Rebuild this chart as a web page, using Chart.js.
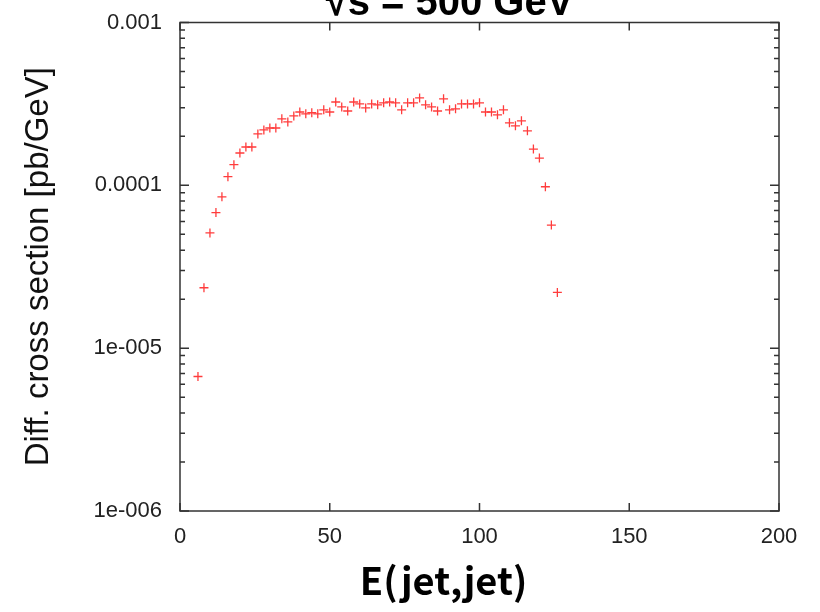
<!DOCTYPE html>
<html>
<head>
<meta charset="utf-8">
<script src="https://cdn.jsdelivr.net/npm/chart.js@4.4.1/dist/chart.umd.min.js"></script>
<style>
    html, body { margin: 0; padding: 0; background: #fff; overflow: hidden; }
    #wrap { position: absolute; left: 0; top: 0; width: 820px; height: 612px; }
</style>
</head>
<body>
<div id="wrap"><canvas id="chart"></canvas></div>
<script>
// Datos (E(jet,jet) en GeV, sección eficaz en pb/GeV)
const energies = [
    6, 8, 10, 12, 14, 16, 18, 20, 22, 24,
    26, 28, 30, 32, 34, 36, 38, 40, 42, 44,
    46, 48, 50, 52, 54, 56, 58, 60, 62, 64,
    66, 68, 70, 72, 74, 76, 78, 80, 82, 84,
    86, 88, 90, 92, 94, 96, 98, 100, 102, 104,
    106, 108, 110, 112, 114, 116, 118, 120, 122, 124,
    126
];
const crossSections = [
    6.7e-6, 2.35e-5, 5.1e-5, 6.8e-5, 8.5e-5, 1.13e-4, 1.34e-4, 1.58e-4, 1.72e-4, 1.72e-4,
    2.07e-4, 2.19e-4, 2.25e-4, 2.25e-4, 2.56e-4, 2.45e-4, 2.67e-4, 2.82e-4, 2.75e-4, 2.79e-4,
    2.75e-4, 2.91e-4, 2.82e-4, 3.25e-4, 3.03e-4, 2.86e-4, 3.25e-4, 3.16e-4, 2.99e-4, 3.16e-4,
    3.12e-4, 3.21e-4, 3.25e-4, 3.21e-4, 2.91e-4, 3.21e-4, 3.21e-4, 3.44e-4, 3.12e-4, 3.03e-4,
    2.86e-4, 3.40e-4, 2.91e-4, 2.95e-4, 3.16e-4, 3.16e-4, 3.16e-4, 3.21e-4, 2.82e-4, 2.82e-4,
    2.71e-4, 2.91e-4, 2.42e-4, 2.32e-4, 2.49e-4, 2.16e-4, 1.67e-4, 1.47e-4, 9.8e-5, 5.7e-5,
    2.2e-5
];
const xTicks = [0, 50, 100, 150, 200];
const yTicks = [1e-6, 1e-5, 1e-4, 1e-3];
const yTickLabels = ["1e-006", "1e-005", "0.0001", "0.001"];
const chartTitle = "√s = 500 GeV";
const xTitle = "E(jet,jet)";
const yTitle = "Diff. cross section [pb/GeV]";

// Marco, marcas hacia dentro (estilo gnuplot) y títulos fuera de centro
const frameTicks = {
    id: "frameTicks",
    afterDraw(chart) {
        const ctx = chart.ctx;
        const { left, right, top, bottom } = chart.chartArea;
        const xs = chart.scales.x;
        const ys = chart.scales.y;
        ctx.save();
        ctx.strokeStyle = "#333";
        ctx.lineWidth = 1.5;
        ctx.strokeRect(left, top, right - left, bottom - top);
        ctx.beginPath();
        xTicks.forEach(v => {
            const px = xs.getPixelForValue(v);
            ctx.moveTo(px, bottom);
            ctx.lineTo(px, bottom - 8);
            ctx.moveTo(px, top);
            ctx.lineTo(px, top + 8);
        });
        yTicks.forEach(v => {
            for (let k = 1; k <= 9; k++) {
                const val = v * k;
                if (val > ys.max * 1.0001) break;
                const py = ys.getPixelForValue(val);
                const len = k === 1 ? 9 : 5;
                ctx.moveTo(left, py);
                ctx.lineTo(left + len, py);
                ctx.moveTo(right, py);
                ctx.lineTo(right - len, py);
            }
        });
        ctx.stroke();

        // Título superior (cortado por el borde, como en el original)
        ctx.fillStyle = "#000";
        ctx.textAlign = "center";
        ctx.textBaseline = "alphabetic";
        ctx.font = "bold 40px 'Liberation Sans'";
        ctx.fillText(chartTitle, left + 0.45 * (right - left), 15);

        // Título del eje x
        ctx.textBaseline = "middle";
        ctx.font = "bold 38px 'Noto Sans CJK JP'";
        ctx.fillText(xTitle, left + 0.44 * (right - left), bottom + 70);
        ctx.restore();
    }
};

const points = energies.map((e, i) => ({ x: e, y: crossSections[i] }));

new Chart(document.getElementById("chart"), {
    type: "scatter",
    data: {
        datasets: [{
            data: points,
            pointStyle: "cross",
            radius: 4.5,
            borderWidth: 1.3,
            borderColor: "rgb(255, 60, 60)",
            backgroundColor: "rgb(255, 60, 60)"
        }]
    },
    options: {
        responsive: true,
        maintainAspectRatio: false,
        animation: false,
        devicePixelRatio: 1,
        layout: { padding: { left: 0, right: 41, top: 22.5, bottom: 0 } },
        plugins: {
            legend: { display: false },
            tooltip: { enabled: false },
            title: { display: false }
        },
        scales: {
            x: {
                type: "linear",
                min: 0,
                max: 200,
                afterBuildTicks: s => { s.ticks = xTicks.map(v => ({ value: v })); },
                afterFit: s => { s.height = 101; },
                grid: { display: false, drawTicks: false },
                border: { display: false },
                ticks: {
                    autoSkip: false,
                    maxRotation: 0,
                    padding: 13,
                    color: "#222",
                    font: { family: "Liberation Sans", size: 22 }
                },
                title: { display: false, text: xTitle }
            },
            y: {
                type: "logarithmic",
                min: 1e-6,
                max: 1e-3,
                afterBuildTicks: s => { s.ticks = yTicks.map(v => ({ value: v })); },
                afterFit: s => {
                    s.width = 180;
                    s.paddingTop = 0;
                    s.paddingBottom = 0;
                },
                grid: { display: false, drawTicks: false },
                border: { display: false },
                ticks: {
                    autoSkip: false,
                    padding: 18,
                    color: "#222",
                    font: { family: "Liberation Sans", size: 22 },
                    callback: v => yTickLabels[yTicks.indexOf(v)]
                },
                title: {
                    display: true,
                    text: yTitle,
                    color: "#111",
                    font: { family: "Liberation Sans", size: 33, lineHeight: 1.2 },
                    padding: { top: 19, bottom: 0 }
                }
            }
        }
    },
    plugins: [frameTicks]
});
</script>
</body>
</html>
